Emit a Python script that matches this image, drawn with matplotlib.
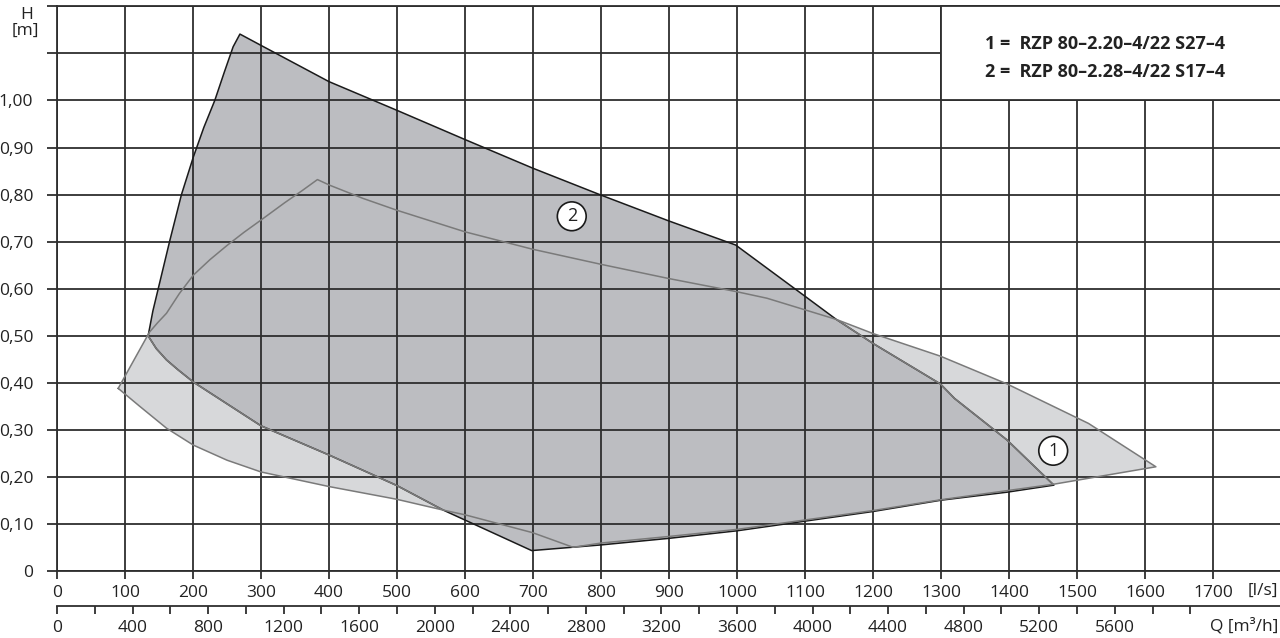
import matplotlib.pyplot as plt
from matplotlib.patches import Rectangle

plt.rcParams['font.family'] = ['Open Sans', 'DejaVu Sans']

# 区域 2 (深色) 轮廓: Q [l/s], H [m]
q2 = [134, 141, 149.5, 166, 183, 200.5, 216, 232, 246, 259, 269, 300, 400, 500, 600, 700, 800, 900, 998,
      1088, 1146, 1200, 1299, 1320, 1397, 1466,
      1397, 1300, 1200, 1000, 900, 800, 698,
      568, 500, 400, 300, 200.5, 178, 161, 146]
h2 = [0.500, 0.553, 0.604, 0.703, 0.800, 0.880, 0.943, 1.000, 1.060, 1.114, 1.141, 1.117, 1.040, 0.979, 0.917, 0.856, 0.799, 0.744, 0.693,
      0.597, 0.535, 0.484, 0.398, 0.367, 0.279, 0.183,
      0.168, 0.151, 0.127, 0.086, 0.070, 0.056, 0.044,
      0.130, 0.182, 0.247, 0.309, 0.402, 0.428, 0.449, 0.473]

# 区域 1 (浅色) 轮廓
q1 = [90, 136, 148, 161, 180, 200.5, 225, 250, 275, 300, 335, 360, 383, 401, 450, 499.5, 600, 699.5, 800, 899, 999, 1044,
      1146, 1200, 1299, 1397, 1517, 1616,
      1466, 1300, 1200, 1000, 900, 800, 759,
      699.5, 600, 568, 499.5, 400, 300, 250, 200.5, 161, 122]
h1 = [0.3885, 0.508, 0.528, 0.548, 0.590, 0.629, 0.662, 0.692, 0.720, 0.746, 0.783, 0.808, 0.832, 0.820, 0.792, 0.767, 0.721, 0.684, 0.652, 0.622, 0.594, 0.580,
      0.535, 0.505, 0.457, 0.398, 0.314, 0.222,
      0.185, 0.152, 0.129, 0.089, 0.074, 0.060, 0.051,
      0.082, 0.120, 0.130, 0.153, 0.180, 0.211, 0.236, 0.268, 0.304, 0.350]

xticks = list(range(0, 1900, 100))
xlabels = [str(v) if v <= 1700 else '' for v in xticks]
yticks = [0, 0.1, 0.2, 0.3, 0.4, 0.5, 0.6, 0.7, 0.8, 0.9, 1.0, 1.1, 1.2]
ylabels = ['0', '0,10', '0,20', '0,30', '0,40', '0,50', '0,60', '0,70', '0,80', '0,90', '1,00', '', '']
m3h_ticks = list(range(0, 6001, 200))
m3h_labels = [str(v) if v % 400 == 0 and v <= 5600 else '' for v in m3h_ticks]

legend_lines = ['1 =  RZP 80–2.20–4/22 S27–4', '2 =  RZP 80–2.28–4/22 S17–4']
marks = [('1', 1465, 0.256), ('2', 757, 0.754)]

light = '#d7d8da'
dark = '#bcbdc1'
gridc = '#2e2e2e'
textc = '#222222'

fig = plt.figure(figsize=(12.8, 6.38), dpi=100)
ax = fig.add_axes([57 / 1280, 66.7 / 638, 1224 / 1280, 565 / 638])
ax.set_xlim(0, 1800)
ax.set_ylim(0, 1.2)

# 填充
p1 = ax.fill(q1, h1, color=light, lw=0, zorder=1.0)[0]
p2 = ax.fill(q2, h2, color=dark, lw=0, zorder=1.1)[0]

# 轮廓线
ax.plot(q2 + q2[:1], h2 + h2[:1], color='#1a1a1a', lw=1.1, zorder=3)
inner, = ax.plot(q2 + q2[:1], h2 + h2[:1], color='#7a7a7a', lw=1.1, zorder=3.1)
inner.set_clip_path(p1)
ax.plot(q1 + q1[:1], h1 + h1[:1], color='#7a7a7a', lw=1.1, zorder=3.2)

# 网格
ax.set_xticks(xticks)
ax.set_xticklabels(xlabels)
ax.set_yticks(yticks)
ax.set_yticklabels(ylabels)
ax.grid(True, color=gridc, lw=1.3)
for s in ax.spines.values():
    s.set_color(gridc)
    s.set_linewidth(1.3)
ax.tick_params(axis='both', direction='out', length=6, width=1.3, color=gridc,
               labelsize=12.5, labelcolor=textc)
ax.tick_params(axis='y', length=7, pad=10)
ax.tick_params(axis='x', pad=4)

# 第二横轴 m3/h
sec = ax.secondary_xaxis(-0.061, functions=(lambda x: x * 3.6, lambda x: x / 3.6))
sec.set_xticks(m3h_ticks)
sec.set_xticklabels(m3h_labels)
sec.spines['bottom'].set_color(gridc)
sec.spines['bottom'].set_linewidth(1.3)
sec.tick_params(direction='out', length=6, width=1.3, color=gridc,
                labelsize=12.5, labelcolor=textc, pad=4)

# 图例框
ax.add_patch(Rectangle((1300, 1.0), 520, 0.2, facecolor='white', edgecolor=gridc,
                       lw=1.3, zorder=4, clip_on=False))
ax.text(1365, 1.12, legend_lines[0], fontsize=13, fontweight='bold', color=textc,
        ha='left', va='center', zorder=5)
ax.text(1365, 1.06, legend_lines[1], fontsize=13, fontweight='bold', color=textc,
        ha='left', va='center', zorder=5)

for t, x, y in marks:
    ax.text(x, y, t, fontsize=13, color=textc, ha='center', va='center', zorder=6,
            bbox=dict(boxstyle='circle,pad=0.3', fc='white', ec='#1a1a1a', lw=1.2))

# 轴标题
fig.text(27 / 1280, 1 - 15 / 638, 'H', fontsize=12.5, color=textc, ha='center', va='center')
fig.text(25 / 1280, 1 - 31 / 638, '[m]', fontsize=12.5, color=textc, ha='center', va='center')
fig.text(1278 / 1280, 1 - 591 / 638, '[l/s]', fontsize=12.5, color=textc, ha='right', va='center')
fig.text(1278 / 1280, 1 - 626 / 638, 'Q [m³/h]', fontsize=12.5, color=textc, ha='right', va='center')

fig.savefig('out.png', dpi=100)
